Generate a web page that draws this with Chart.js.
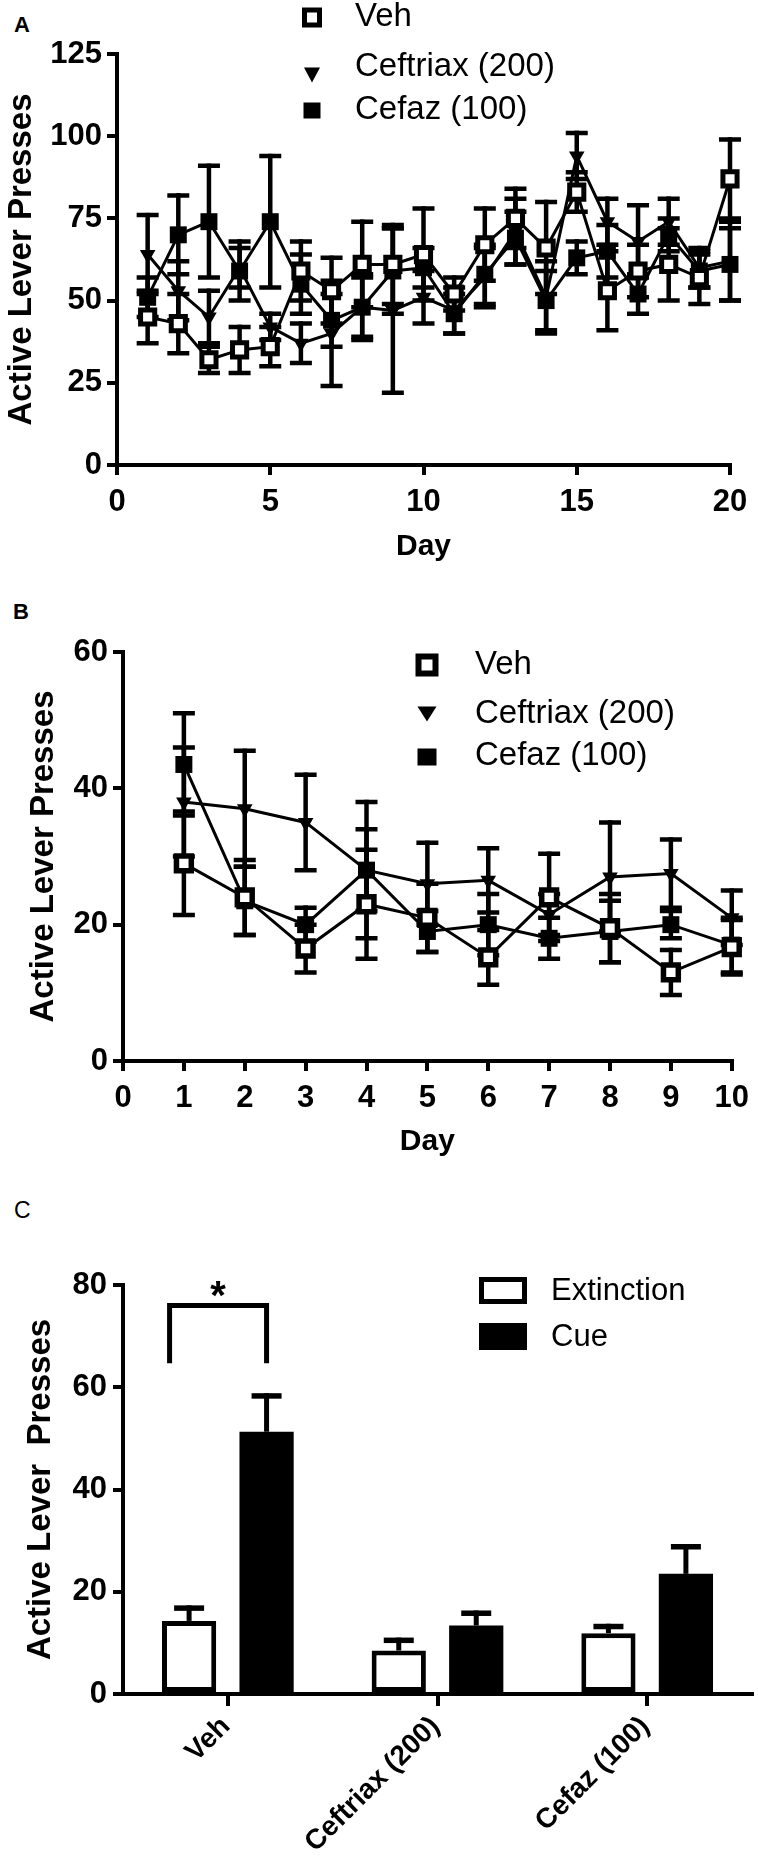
<!DOCTYPE html>
<html><head><meta charset="utf-8">
<script src="https://cdn.jsdelivr.net/npm/chart.js@4.4.1/dist/chart.umd.min.js"></script>
<style>
html,body{margin:0;padding:0;background:#fff;}
body{width:758px;height:1871px;position:relative;overflow:hidden;font-family:'Liberation Sans',Arial,Helvetica,sans-serif;}
.panel{position:absolute;left:0;width:758px;}
.lab{position:absolute;line-height:1;color:#000;}
canvas{display:block;}
</style></head><body>
<div class="lab" style="left:14px;top:14px;font-size:22px;font-weight:bold">A</div>
<div class="lab" style="left:13px;top:601px;font-size:22px;font-weight:bold">B</div>
<div class="lab" style="left:14px;top:1199px;font-size:23px;">C</div>
<div class="panel" style="top:0;height:580px"><canvas id="cA" width="758" height="580"></canvas></div>
<div class="panel" style="top:590px;height:580px"><canvas id="cB" width="758" height="580"></canvas></div>
<div class="panel" style="top:1180px;height:691px"><canvas id="cC" width="758" height="691"></canvas></div>
<script>
// ---------- DATA ----------
const SERIES_NAMES = ['Veh', 'Ceftriax (200)', 'Cefaz (100)'];

// Panel A: 20 days
const DAYS_A = [1,2,3,4,5,6,7,8,9,10,11,12,13,14,15,16,17,18,19,20];
const VEH_A        = [45, 43, 32, 35, 36, 59, 53, 61, 61, 64, 52, 67, 75, 66, 83, 53, 59, 61, 57, 87];
const VEH_A_SEM    = [ 8,  9,  4,  7,  6,  9, 10, 13, 12, 14,  5, 11,  9, 14,  6, 12,  8, 11,  8, 12];
const CEFTR_A      = [64, 53, 45, 60, 42, 37, 40, 48, 47, 51, 47, 57, 71, 51, 94, 74, 68, 74, 60, 62];
const CEFTR_A_SEM  = [12,  9,  8,  6,  4,  6, 16, 10, 25,  8,  7,  9, 10, 11,  7,  7, 11,  7,  6, 12];
const CEFAZ_A      = [51, 70, 74, 59, 74, 55, 44, 48, 59, 60, 46, 58, 69, 50, 63, 65, 52, 70, 59, 61];
const CEFAZ_A_SEM  = [ 6, 12, 17,  9, 20,  9,  8,  9, 13,  6,  6,  9,  8,  9,  5,  8,  6,  5,  5, 11];
const X_TICKS_A = [0, 5, 10, 15, 20];
const Y_TICKS_A = [0, 25, 50, 75, 100, 125];

// Panel B: 10 days
const DAYS_B = [1,2,3,4,5,6,7,8,9,10];
const VEH_B        = [29, 24, 16.5, 23, 21, 15.2, 24, 19.5, 13, 16.7];
const VEH_B_SEM    = [7.6, 5.5, 3.5, 8, 5, 4, 6.4, 5, 3.3, 4];
const CEFTR_B      = [38, 37, 35, 28, 26, 26.5, 21.5, 27, 27.5, 21];
const CEFTR_B_SEM  = [8, 8.5, 7, 6, 6, 4.7, 3, 8, 5, 4];
const CEFAZ_B      = [43.5, 23.5, 20, 28, 19, 20, 18, 19, 20, 17];
const CEFAZ_B_SEM  = [7.5, 5, 2.5, 10, 3, 4.5, 3, 4.5, 2, 4];
const X_TICKS_B = [0,1,2,3,4,5,6,7,8,9,10];
const Y_TICKS_B = [0, 20, 40, 60];

// Panel C: bars
const GROUPS_C = ['Veh', 'Ceftriax (200)', 'Cefaz (100)'];
const BAR_NAMES = ['Extinction', 'Cue'];
const EXT_C     = [14.3, 8.5, 11.9];
const EXT_C_SEM = [2.5, 2.0, 1.3];
const CUE_C     = [51.3, 13.4, 23.5];
const CUE_C_SEM = [7.0, 2.4, 5.3];
const Y_TICKS_C = [0, 20, 40, 60, 80];
const SIG_TOP = 76, SIG_LEG = 64.7, SIG_MARK = '*';

// ---------- STYLE / HELPERS ----------
const FONT = "'Liberation Sans', Arial, Helvetica, sans-serif";
Chart.defaults.font.family = FONT;
Chart.defaults.color = '#000';
const pts = (xs, ys) => xs.map((x, i) => ({x: x, y: ys[i]}));

function drawErr(chart, o, upOnly) {
  const ctx = chart.ctx, ys = chart.scales.y;
  ctx.save();
  ctx.strokeStyle = '#000'; ctx.lineCap = 'butt';
  chart.data.datasets.forEach((ds, i) => {
    if (!ds.sem) return;
    const meta = chart.getDatasetMeta(i);
    meta.data.forEach((el, j) => {
      const raw = ds.data[j];
      const v = (raw !== null && typeof raw === 'object') ? raw.y : raw;
      const e = ds.sem[j];
      const x = el.x;
      const yHi = ys.getPixelForValue(v + e);
      const yLo = ys.getPixelForValue(upOnly ? v : v - e);
      ctx.lineWidth = o.lineWidth;
      ctx.beginPath(); ctx.moveTo(x, yLo); ctx.lineTo(x, yHi - o.capThick / 2); ctx.stroke();
      const hw = o.capWidth / 2;
      ctx.lineWidth = o.capThick;
      ctx.beginPath(); ctx.moveTo(x - hw, yHi); ctx.lineTo(x + hw, yHi);
      if (!upOnly) { ctx.moveTo(x - hw, yLo); ctx.lineTo(x + hw, yLo); }
      ctx.stroke();
    });
  });
  ctx.restore();
}
const errorBars = {
  id: 'errorBars',
  beforeDatasetsDraw(chart, args, o) { if (o && o.mode === 'both') drawErr(chart, o, false); },
  afterDatasetsDraw(chart, args, o) { if (o && o.mode === 'up') drawErr(chart, o, true); }
};

function drawMarker(ctx, shape, x, y, s) {
  ctx.save();
  ctx.fillStyle = '#000'; ctx.strokeStyle = '#000';
  if (shape === 'open') {
    const inner = s.open - s.openBorder;
    ctx.fillStyle = '#fff';
    ctx.fillRect(x - inner / 2, y - inner / 2, inner, inner);
    ctx.lineWidth = s.openBorder;
    ctx.strokeRect(x - inner / 2, y - inner / 2, inner, inner);
  } else if (shape === 'tri') {
    ctx.beginPath();
    ctx.moveTo(x - s.triW / 2, y - s.triH / 2);
    ctx.lineTo(x + s.triW / 2, y - s.triH / 2);
    ctx.lineTo(x, y + s.triH / 2);
    ctx.closePath(); ctx.fill();
  } else if (shape === 'filled') {
    ctx.fillRect(x - s.fillW / 2, y - s.fillH / 2, s.fillW, s.fillH);
  }
  ctx.restore();
}
const lineLegend = {
  id: 'lineLegend',
  afterDraw(chart, args, o) {
    if (!o || !o.rows) return;
    const ctx = chart.ctx;
    const shapes = ['open', 'tri', 'filled'];
    SERIES_NAMES.forEach((name, i) => {
      drawMarker(ctx, shapes[i], o.markerX, o.markerY[i], o.sizes);
      ctx.save();
      ctx.fillStyle = '#000'; ctx.font = o.font; ctx.textBaseline = 'middle'; ctx.textAlign = 'left';
      ctx.fillText(name, o.textX, o.rows[i]);
      ctx.restore();
    });
  }
};

function lineChart(id, days, series, sems, xr, yr, geom, legend) {
  const shapes = [
    {pointStyle: 'rect', pointRadius: geom.openR, pointBorderWidth: geom.openB, pointBackgroundColor: '#fff', pointBorderColor: '#000'},
    {pointStyle: 'triangle', pointRotation: 180, pointRadius: geom.triR, pointBorderWidth: 0, pointBackgroundColor: '#000', pointBorderColor: '#000'},
    {pointStyle: 'rect', pointRadius: geom.fillR, pointBorderWidth: 0, pointBackgroundColor: '#000', pointBorderColor: '#000'}
  ];
  const datasets = SERIES_NAMES.map((name, i) => Object.assign({
    label: name, data: pts(days, series[i]), sem: sems[i],
    borderColor: '#000', borderWidth: 3, tension: 0, fill: false, clip: false,
    pointHoverRadius: 0
  }, shapes[i]));
  return new Chart(document.getElementById(id), {
    type: 'line',
    data: {datasets: datasets},
    plugins: [errorBars, lineLegend],
    options: {
      responsive: false, animation: false, events: [],
      layout: {padding: {top: geom.top, right: geom.right, left: 0, bottom: 0}},
      plugins: {
        legend: {display: false}, tooltip: {enabled: false},
        errorBars: {mode: 'both', lineWidth: 4.5, capThick: 4.5, capWidth: 22},
        lineLegend: legend
      },
      scales: {
        x: {
          type: 'linear', min: xr.ticks[0], max: xr.ticks[xr.ticks.length - 1],
          afterBuildTicks: (s) => { s.ticks = xr.ticks.map(v => ({value: v})); },
          afterFit: (s) => { s.height = geom.xH; },
          grid: {display: true, drawOnChartArea: false, drawTicks: true, tickLength: 10, color: '#000', lineWidth: 4},
          border: {display: true, color: '#000', width: 4},
          ticks: {padding: 9, color: '#000', font: {size: 31, weight: 'bold'}},
          title: {display: true, text: 'Day', color: '#000', font: {size: 30, weight: 'bold'}, padding: {top: 0, bottom: geom.xTitlePad}}
        },
        y: {
          type: 'linear', min: yr.ticks[0], max: yr.ticks[yr.ticks.length - 1],
          afterBuildTicks: (s) => { s.ticks = yr.ticks.map(v => ({value: v})); },
          afterFit: (s) => { s.width = geom.left; },
          grid: {display: true, drawOnChartArea: false, drawTicks: true, tickLength: 10, color: '#000', lineWidth: 4},
          border: {display: true, color: '#000', width: 4},
          ticks: {padding: 5, color: '#000', font: {size: 31, weight: 'bold'}},
          title: {display: true, text: 'Active Lever Presses', color: '#000', font: {size: 33, weight: 'bold'}, padding: {top: geom.yTitlePad, bottom: 0}}
        }
      }
    }
  });
}

// ---------- PANEL A ----------
lineChart('cA', DAYS_A,
  [VEH_A, CEFTR_A, CEFAZ_A], [VEH_A_SEM, CEFTR_A_SEM, CEFAZ_A_SEM],
  {ticks: X_TICKS_A}, {ticks: Y_TICKS_A},
  {top: 54, right: 28, left: 117, xH: 115, xTitlePad: 15, yTitlePad: 2,
   openR: 10, openB: 5, triR: 9, fillR: 12},
  {markerX: 312, markerY: [17.5, 75, 110.5], textX: 355, rows: [17, 67, 110],
   font: "33px 'Liberation Sans', Arial, sans-serif",
   sizes: {open: 20, openBorder: 5, triW: 16, triH: 15, fillW: 17, fillH: 16}});

// ---------- PANEL B ----------
lineChart('cB', DAYS_B,
  [VEH_B, CEFTR_B, CEFAZ_B], [VEH_B_SEM, CEFTR_B_SEM, CEFAZ_B_SEM],
  {ticks: X_TICKS_B}, {ticks: Y_TICKS_B},
  {top: 62, right: 21, left: 123, xH: 109, xTitlePad: 10, yTitlePad: 24,
   openR: 10.5, openB: 5.5, triR: 9, fillR: 12},
  {markerX: 427, markerY: [75, 124, 167], textX: 475, rows: [75, 124, 166],
   font: "33px 'Liberation Sans', Arial, sans-serif",
   sizes: {open: 23, openBorder: 6, triW: 19, triH: 15, fillW: 19, fillH: 17}});

// ---------- PANEL C ----------
const barAnnot = {
  id: 'barAnnot',
  afterDraw(chart, args, o) {
    const ctx = chart.ctx, ys = chart.scales.y;
    // significance bracket between Veh bars
    const b0 = chart.getDatasetMeta(0).data[0], b1 = chart.getDatasetMeta(1).data[0];
    const xL = b0.x - b0.width * 0.36, xR = b1.x;
    const yT = ys.getPixelForValue(SIG_TOP), yB = ys.getPixelForValue(SIG_LEG);
    ctx.save();
    ctx.strokeStyle = '#000'; ctx.lineWidth = 5; ctx.lineJoin = 'miter'; ctx.lineCap = 'butt';
    ctx.beginPath(); ctx.moveTo(xL, yB); ctx.lineTo(xL, yT); ctx.lineTo(xR, yT); ctx.lineTo(xR, yB); ctx.stroke();
    ctx.fillStyle = '#000'; ctx.font = "bold 40px " + FONT; ctx.textAlign = 'center'; ctx.textBaseline = 'alphabetic';
    ctx.fillText(SIG_MARK, (xL + xR) / 2, yT + 4);
    // legend
    const L = o;
    BAR_NAMES.forEach((name, i) => {
      const y0 = L.boxY[i];
      if (i === 0) {
        ctx.fillStyle = '#fff'; ctx.fillRect(L.boxX, y0, L.boxW, L.boxH);
        ctx.lineWidth = 5; ctx.strokeRect(L.boxX + 2.5, y0 + 2.5, L.boxW - 5, L.boxH - 5);
      } else {
        ctx.fillStyle = '#000'; ctx.fillRect(L.boxX, y0, L.boxW, L.boxH);
      }
      ctx.fillStyle = '#000'; ctx.font = "31px " + FONT; ctx.textAlign = 'left'; ctx.textBaseline = 'middle';
      ctx.fillText(name, L.textX, y0 + L.boxH / 2 + 1);
    });
    ctx.restore();
  }
};

new Chart(document.getElementById('cC'), {
  type: 'bar',
  data: {
    labels: GROUPS_C,
    datasets: [
      {label: BAR_NAMES[0], data: EXT_C, sem: EXT_C_SEM, backgroundColor: '#fff', borderColor: '#000', borderWidth: 5, borderSkipped: false,
       categoryPercentage: 0.739, barPercentage: 0.70},
      {label: BAR_NAMES[1], data: CUE_C, sem: CUE_C_SEM, backgroundColor: '#000', borderColor: '#000', borderWidth: 0,
       categoryPercentage: 0.739, barPercentage: 0.70}
    ]
  },
  plugins: [errorBars, barAnnot],
  options: {
    responsive: false, animation: false, events: [],
    layout: {padding: {top: 105, right: 6, left: 0, bottom: 0}},
    plugins: {
      legend: {display: false}, tooltip: {enabled: false},
      errorBars: {mode: 'up', lineWidth: 5, capThick: 5.5, capWidth: 30},
      barAnnot: {boxX: 479, boxY: [97, 143], boxW: 48, boxH: 27, textX: 551}
    },
    scales: {
      x: {
        type: 'category', offset: true,
        afterFit: (s) => { s.height = 177; },
        grid: {display: true, offset: false, drawOnChartArea: false, drawTicks: true, tickLength: 12, color: '#000', lineWidth: 4},
        border: {display: true, color: '#000', width: 4},
        ticks: {padding: 4, labelOffset: -2, color: '#000', minRotation: 45, maxRotation: 45, autoSkip: false, font: {size: 28, weight: 'bold'}}
      },
      y: {
        type: 'linear', min: Y_TICKS_C[0], max: Y_TICKS_C[Y_TICKS_C.length - 1],
        afterBuildTicks: (s) => { s.ticks = Y_TICKS_C.map(v => ({value: v})); },
        afterFit: (s) => { s.width = 123; },
        grid: {display: true, drawOnChartArea: false, drawTicks: true, tickLength: 10, color: '#000', lineWidth: 4},
        border: {display: true, color: '#000', width: 4},
        ticks: {padding: 6, color: '#000', font: {size: 31, weight: 'bold'}},
        title: {display: true, text: 'Active Lever  Presses', color: '#000', font: {size: 33, weight: 'bold'}, padding: {top: 21, bottom: 0}}
      }
    }
  }
});
</script>
</body></html>
